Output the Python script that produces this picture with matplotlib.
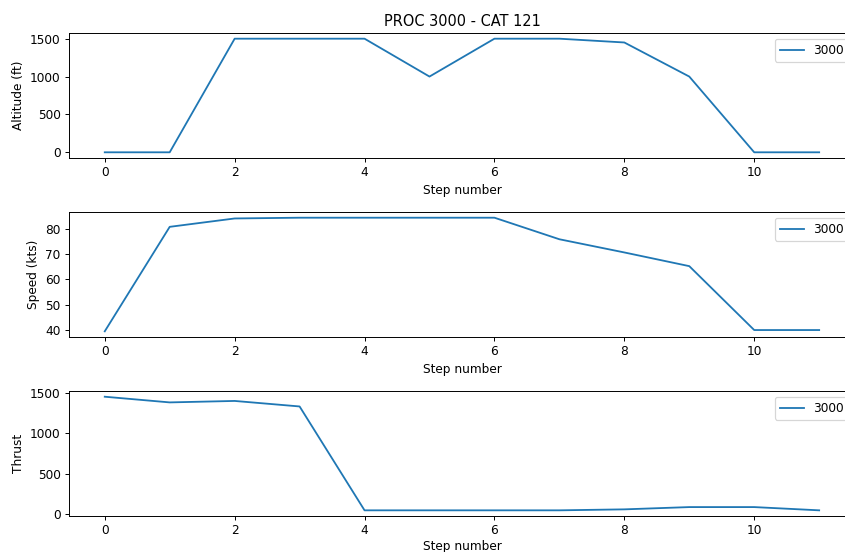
import matplotlib
matplotlib.use("Agg")
import matplotlib.pyplot as plt

# ── Data ──────────────────────────────────────────────────────────────────────
steps = list(range(12))
altitude = [0, 0, 1500, 1500, 1500, 1000, 1500, 1500, 1450, 1000, 0, 0]
speed = [39.5, 80.7, 84.0, 84.3, 84.3, 84.3, 84.3, 75.8, 70.6, 65.2, 40.0, 40.0]
thrust = [1450, 1380, 1398, 1330, 50, 50, 50, 50, 62, 90, 90, 50]
series_label = "3000"

panels = [
    (altitude, "Altitude (ft)"),
    (speed, "Speed (kts)"),
    (thrust, "Thrust"),
]

# ── Figure setup (reference was rendered at a lower dpi; axes run past the
#    right edge, as in the reference) ─────────────────────────────────────────
DPI = 87
fig = plt.figure(figsize=(845 / DPI, 552 / DPI), dpi=DPI)
bottoms = [0.7138, 0.3895, 0.0652]
height = 0.2264

axes = []
for (values, ylabel), b in zip(panels, bottoms):
    ax = fig.add_axes([0.0817, b, 0.930, height])
    ax.plot(steps, values, color="#1f77b4", label=series_label)
    ax.set_xlabel("Step number")
    ax.set_ylabel(ylabel)
    ax.legend(loc="upper right")
    axes.append(ax)

axes[0].set_title("PROC 3000 - CAT 121")
axes[-1].set_xlabel("Step number", labelpad=2)   # keep it inside the canvas

fig.savefig("out.png", dpi=DPI)
